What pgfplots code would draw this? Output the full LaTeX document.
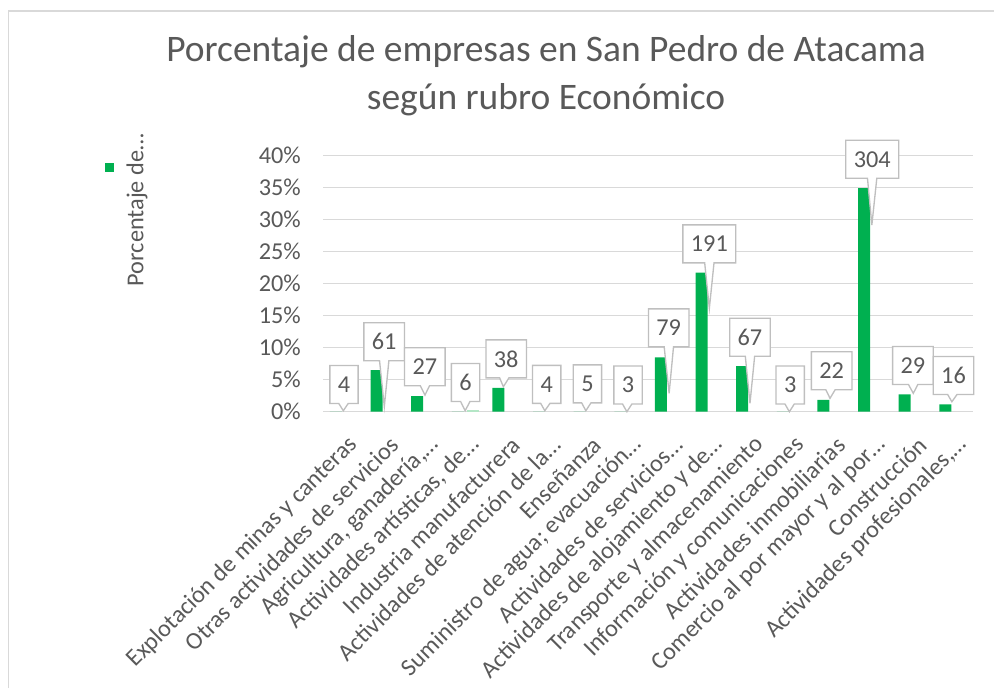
\documentclass[border=0pt]{standalone}
\usepackage{fontspec}
\setmainfont{Carlito}
\usepackage{pgfplots}
\pgfplotsset{compat=1.18}
\usetikzlibrary{shapes.callouts}
\definecolor{bargreen}{HTML}{00B050}
\definecolor{lightgreen}{HTML}{B4E6C6}
\definecolor{txt}{HTML}{595959}
\definecolor{gridc}{HTML}{D9D9D9}
\definecolor{boxc}{HTML}{BFBFBF}
\newcommand{\lbl}{\fontsize{18.2}{21}\selectfont}
\pgfplotstableread{
x pct
1 0
2 6.5
3 2.44
4 0
5 3.74
6 0
7 0
8 0
9 8.5
10 21.7
11 7.1
12 0
13 1.87
14 34.9
15 2.7
16 1.15
}\datatab
\begin{document}
\begin{tikzpicture}[
  lab/.style={rectangle callout, draw=boxc, fill=white, line width=1pt, text=txt,
    font=\lbl, minimum height=28.5pt, inner xsep=6pt, inner ysep=0pt,
    callout pointer width=7pt}]
\path[use as bounding box] (0,0) rectangle (745.5pt,-516pt);
\draw[gridc, line width=0.8pt] (6.4pt,-516pt) -- (6.4pt,-8.25pt) -- (745.5pt,-8.25pt);
% title
\node[anchor=base, font=\fontsize{28.1}{34}\selectfont, text=txt, inner sep=0pt] at (409.5pt,-46.3pt) {Porcentaje de empresas en San Pedro de Atacama};
\node[anchor=base, font=\fontsize{28.1}{34}\selectfont, text=txt, inner sep=0pt] at (409.5pt,-82.5pt) {según rubro Económico};
% legend
\fill[bargreen] (78.75pt,-122pt) rectangle (85.5pt,-128.8pt);
\node[rotate=90, font=\lbl, text=txt, inner sep=0pt] at (102.75pt,-157.5pt) {Porcentaje de…};
\begin{axis}[
  at={(242.25pt,-308.8pt)}, anchor=south west,
  scale only axis, width=487.5pt, height=192.3pt,
  xmin=0.5, xmax=16.5, ymin=0, ymax=40,
  clip=false,
  ybar, bar width=9pt,
  axis x line*=bottom, axis y line*=left,
  x axis line style={gridc, line width=1pt, -},
  y axis line style={draw=none},
  ymajorgrids, grid style={gridc, line width=1pt},
  ytick={0,5,10,15,20,25,30,35,40},
  yticklabels={0\%,5\%,10\%,15\%,20\%,25\%,30\%,35\%,40\%},
  ytick style={draw=none},
  xtick={1,2,3,4,5,6,7,8,9,10,11,12,13,14,15,16},
  xticklabels={Explotación de minas y canteras, Otras actividades de servicios, {Agricultura, ganadería,…}, {Actividades artísticas, de…}, Industria manufacturera, Actividades de atención de la…, Enseñanza, Suministro de agua; evacuación…, Actividades de servicios…, Actividades de alojamiento y de…, Transporte y almacenamiento, Información y comunicaciones, Actividades inmobiliarias, Comercio al por mayor y al por…, Construcción, {Actividades profesionales,…}},
  x tick style={draw=none},
  extra x ticks={0.5,1.5,2.5,3.5,4.5,5.5,6.5,7.5,8.5,9.5,10.5,11.5,12.5,13.5,14.5,15.5,16.5},
  extra x tick labels={},
  extra x tick style={grid=none, tick align=outside, major tick length=6pt, tick style={draw=gridc, line width=1pt}},
  ticklabel style={font=\lbl, text=txt},
  yticklabel style={anchor=east, inner sep=0pt, xshift=-16.5pt},
  xticklabel style={rotate=45, anchor=east, inner sep=0pt, yshift=-18pt, xshift=-7pt},
]
\addplot[fill=bargreen, draw=none] table[x=x, y=pct] {\datatab};
\addplot[fill=lightgreen, draw=none] coordinates {(4,0.25)};
\node[lab, callout absolute pointer={(axis cs:1.0,0.16)}] at (axis cs:1.017,4.24) {4};
\node[lab, callout absolute pointer={(axis cs:2.009,0.78)}] at (axis cs:2.006,10.92) {61};
\node[lab, callout absolute pointer={(axis cs:3.01,2.6)}] at (axis cs:3.006,7.02) {27};
\node[lab, callout absolute pointer={(axis cs:4.0,0.16)}] at (axis cs:4.008,4.56) {6};
\node[lab, callout absolute pointer={(axis cs:4.94,3.9)}] at (axis cs:5.01,8.25) {38};
\node[lab, callout absolute pointer={(axis cs:5.96,0.16)}] at (axis cs:6.006,4.27) {4};
\node[lab, callout absolute pointer={(axis cs:6.97,0.16)}] at (axis cs:7.01,4.35) {5};
\node[lab, callout absolute pointer={(axis cs:7.98,0.0)}] at (axis cs:8.008,4.17) {3};
\node[lab, callout absolute pointer={(axis cs:9.02,2.87)}] at (axis cs:9.01,13.09) {79};
\node[lab, callout absolute pointer={(axis cs:10.01,16.13)}] at (axis cs:10.01,26.19) {191};
\node[lab, callout absolute pointer={(axis cs:11.01,1.31)}] at (axis cs:11.01,11.62) {67};
\node[lab, callout absolute pointer={(axis cs:11.98,0.0)}] at (axis cs:12.0,4.17) {3};
\node[lab, callout absolute pointer={(axis cs:12.98,2.09)}] at (axis cs:13.02,6.4) {22};
\node[lab, callout absolute pointer={(axis cs:14.01,29.13)}] at (axis cs:14.02,39.39) {304};
\node[lab, callout absolute pointer={(axis cs:15.03,2.87)}] at (axis cs:15.02,7.21) {29};
\node[lab, callout absolute pointer={(axis cs:15.98,1.56)}] at (axis cs:16.02,5.65) {16};
\end{axis}
\end{tikzpicture}
\end{document}
